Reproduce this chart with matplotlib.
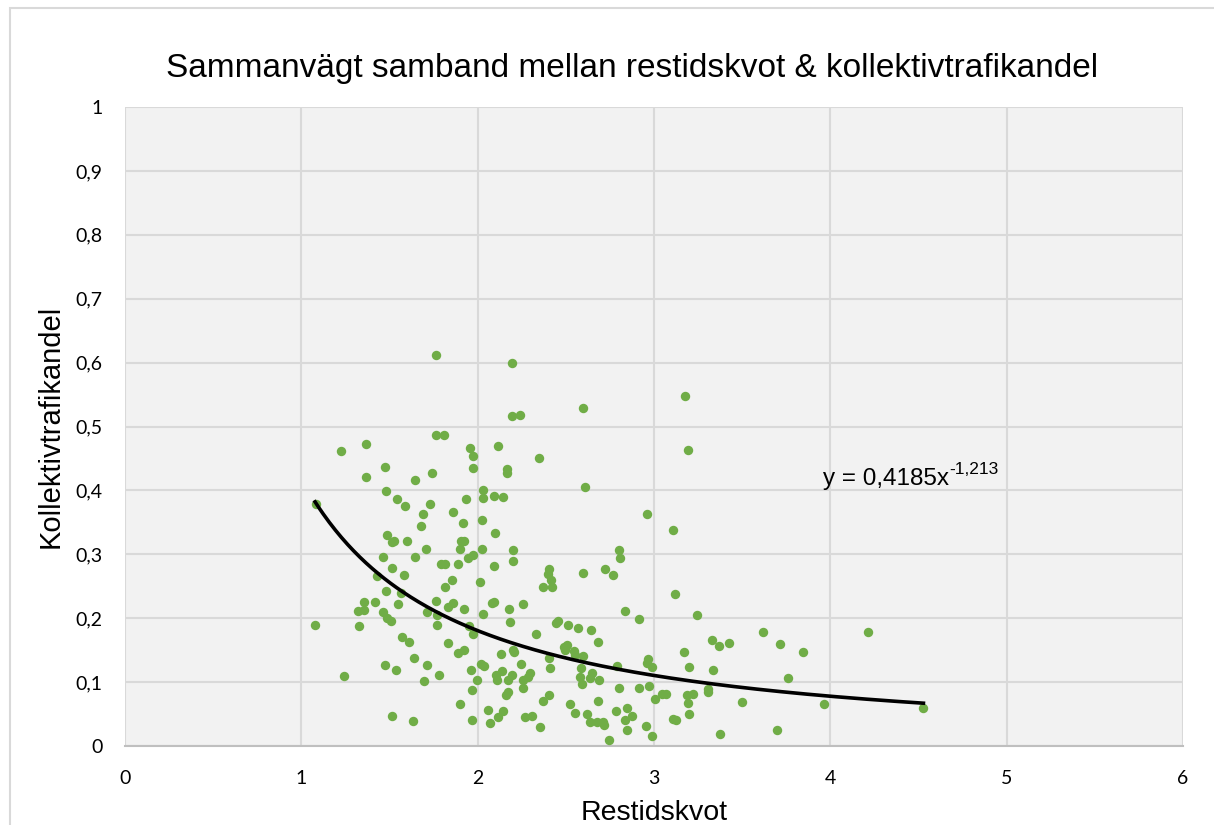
import numpy as np
import matplotlib.pyplot as plt
from matplotlib.patches import Rectangle

plt.rcParams['font.family'] = ['Liberation Sans', 'DejaVu Sans']

# Restidskvot (x) and kollektivtrafikandel (y)
restidskvot = [
    1.762, 1.762, 1.807, 1.227, 1.365, 1.957, 1.974, 1.475, 1.369, 1.739,
    1.645, 1.976, 1.479, 2.031, 2.033, 1.545, 1.586, 1.728, 1.932, 1.082,
    1.689, 1.862, 1.681, 1.915, 2.027, 1.484, 1.513, 1.528, 1.601, 1.706,
    1.900, 1.904, 1.923, 2.027,
    1.462, 1.645, 1.947, 1.976, 1.516, 1.792, 1.815, 1.887, 1.583, 1.428,
    1.857, 2.015, 1.815, 1.479, 1.564, 1.762, 1.861, 1.834, 1.356, 1.420,
    1.550, 1.322, 1.356, 1.465, 1.484, 1.509, 1.711, 1.768, 1.923, 2.033,
    1.078, 1.327, 1.768, 1.951, 1.972, 1.573, 1.613, 1.832, 1.887, 1.923,
    1.639, 1.473, 1.535, 1.715, 2.021, 2.036, 1.964, 1.781, 1.698, 1.242,
    1.995, 1.966, 1.900, 2.057, 1.514, 1.632, 1.966, 2.070,
    2.195, 2.596, 2.197, 2.240, 2.118, 2.348, 2.168, 2.165, 2.095, 2.146,
    2.609, 2.959, 3.106, 2.097, 2.203, 2.804,
    2.808, 2.199, 2.093, 2.407, 2.398, 2.596, 2.723, 2.766, 2.416, 2.373,
    2.420, 3.120, 2.080, 2.093, 2.256, 2.178, 2.836, 2.917, 2.182, 2.445,
    2.458, 2.514, 2.571, 2.645, 2.329, 2.685, 2.492, 2.509, 2.496, 2.549,
    2.552, 2.596, 2.203, 2.208, 2.131, 2.405, 2.248, 2.411, 2.138, 2.965,
    2.959, 2.987, 2.792, 2.587, 2.294, 2.288, 2.259, 2.103, 2.108, 2.193,
    2.174, 2.581, 2.590, 2.647, 2.638, 2.690, 2.256, 2.804, 2.914, 2.972,
    2.174, 2.159, 2.405, 2.369, 2.685, 3.006, 3.044, 3.069, 2.525, 2.146,
    2.118, 2.269, 2.307, 2.354, 2.554, 2.619, 2.638, 2.676, 2.710, 2.717,
    2.745, 2.785, 2.846, 2.878, 2.836, 2.846, 2.955, 2.991, 3.106, 3.125,
    3.178, 3.190, 3.246, 3.617, 4.214, 3.331, 3.371, 3.428, 3.717, 3.846,
    3.172, 3.197, 3.337, 3.762, 3.186, 3.220, 3.195, 3.305, 3.309, 3.498,
    3.963, 4.528, 3.197, 3.377, 3.698,
]
kollektivtrafikandel = [
    0.612, 0.487, 0.487, 0.462, 0.473, 0.467, 0.454, 0.437, 0.421, 0.428,
    0.416, 0.435, 0.399, 0.400, 0.388, 0.387, 0.375, 0.379, 0.386, 0.378,
    0.363, 0.366, 0.345, 0.349, 0.354, 0.330, 0.320, 0.321, 0.321, 0.308,
    0.308, 0.321, 0.321, 0.308,
    0.296, 0.296, 0.294, 0.299, 0.279, 0.285, 0.285, 0.285, 0.268, 0.266,
    0.260, 0.257, 0.249, 0.243, 0.240, 0.227, 0.224, 0.218, 0.225, 0.226,
    0.222, 0.211, 0.213, 0.209, 0.201, 0.196, 0.209, 0.205, 0.214, 0.207,
    0.190, 0.188, 0.189, 0.188, 0.175, 0.171, 0.162, 0.161, 0.145, 0.151,
    0.138, 0.126, 0.119, 0.126, 0.128, 0.125, 0.119, 0.111, 0.102, 0.110,
    0.103, 0.088, 0.065, 0.056, 0.047, 0.039, 0.041, 0.036,
    0.600, 0.529, 0.516, 0.518, 0.470, 0.450, 0.433, 0.428, 0.391, 0.389,
    0.405, 0.363, 0.338, 0.333, 0.307, 0.307,
    0.294, 0.290, 0.281, 0.277, 0.269, 0.270, 0.277, 0.267, 0.260, 0.249,
    0.249, 0.238, 0.224, 0.225, 0.222, 0.215, 0.212, 0.199, 0.194, 0.192,
    0.195, 0.189, 0.185, 0.181, 0.176, 0.162, 0.155, 0.158, 0.150, 0.148,
    0.142, 0.141, 0.150, 0.147, 0.144, 0.137, 0.128, 0.122, 0.118, 0.136,
    0.130, 0.124, 0.125, 0.122, 0.114, 0.108, 0.103, 0.111, 0.103, 0.111,
    0.103, 0.108, 0.097, 0.114, 0.107, 0.104, 0.091, 0.090, 0.091, 0.094,
    0.085, 0.080, 0.080, 0.070, 0.071, 0.073, 0.081, 0.082, 0.065, 0.054,
    0.046, 0.045, 0.047, 0.030, 0.051, 0.050, 0.038, 0.038, 0.038, 0.033,
    0.009, 0.054, 0.059, 0.047, 0.041, 0.025, 0.032, 0.016, 0.043, 0.041,
    0.547, 0.464, 0.205, 0.178, 0.178, 0.166, 0.157, 0.161, 0.160, 0.147,
    0.147, 0.124, 0.119, 0.107, 0.080, 0.082, 0.067, 0.089, 0.085, 0.069,
    0.066, 0.059, 0.050, 0.019, 0.025,
]

# power trendline from the chart: y = 0.4185 * x^-1.213
coef_a = 0.4185
coef_b = -1.213

x_ticks = [0, 1, 2, 3, 4, 5, 6]
y_ticks = [0, 0.1, 0.2, 0.3, 0.4, 0.5, 0.6, 0.7, 0.8, 0.9, 1]

fig = plt.figure(figsize=(12.14, 8.25), dpi=100)
fig.patches.append(Rectangle((10 / 1214, -0.01), 1.02, 1 - 8 / 825 + 0.01,
                             transform=fig.transFigure, fill=False,
                             edgecolor='#D9D9D9', linewidth=1.5))
ax = fig.add_axes([125 / 1214, 1 - 746 / 825, (1183 - 125) / 1214, (746 - 107) / 825])
ax.set_facecolor('#F2F2F2')

ax.scatter(restidskvot, kollektivtrafikandel, s=46, color='#70AD47', zorder=3, linewidths=0)

x = np.array(restidskvot)
xs = np.linspace(x.min(), x.max(), 300)
ax.plot(xs, coef_a * xs ** coef_b, color='black', linewidth=2.6, zorder=4)

eq = ax.text(3.96, 0.408, 'y = 0,4185x', fontsize=17.5, zorder=5)
ax.annotate('-1,213', xy=(1, 0.6), xycoords=eq, fontsize=12.5, va='bottom', zorder=5)

ax.set_xlim(0, 6)
ax.set_ylim(0, 1)
ax.set_xticks(x_ticks)
ax.set_yticks(y_ticks)
ax.set_xticklabels([str(t) for t in x_ticks])
ax.set_yticklabels(['0' if t == 0 else ('1' if t == 1 else f'{t:.1f}'.replace('.', ','))
                    for t in y_ticks])
ax.tick_params(length=0, labelsize=14, pad=16)
ax.tick_params(axis='x', pad=17)
for lbl in ax.get_xticklabels() + ax.get_yticklabels():
    lbl.set_family(['Lato', 'DejaVu Sans'])
ax.grid(True, color='#D9D9D9', linewidth=1.5, zorder=0)
ax.set_axisbelow(True)
for side in ['top', 'right', 'left']:
    ax.spines[side].set_visible(False)
ax.spines['bottom'].set_color('#BFBFBF')
ax.spines['bottom'].set_linewidth(1.5)

ax.set_xlabel('Restidskvot', fontsize=20.5, labelpad=10)
ax.set_ylabel('Kollektivtrafikandel', fontsize=21, labelpad=8)
fig.text(632 / 1214, 1 - 69 / 825, 'Sammanvägt samband mellan restidskvot & kollektivtrafikandel',
         ha='center', va='center', fontsize=24)

fig.savefig('out.png', dpi=100)
